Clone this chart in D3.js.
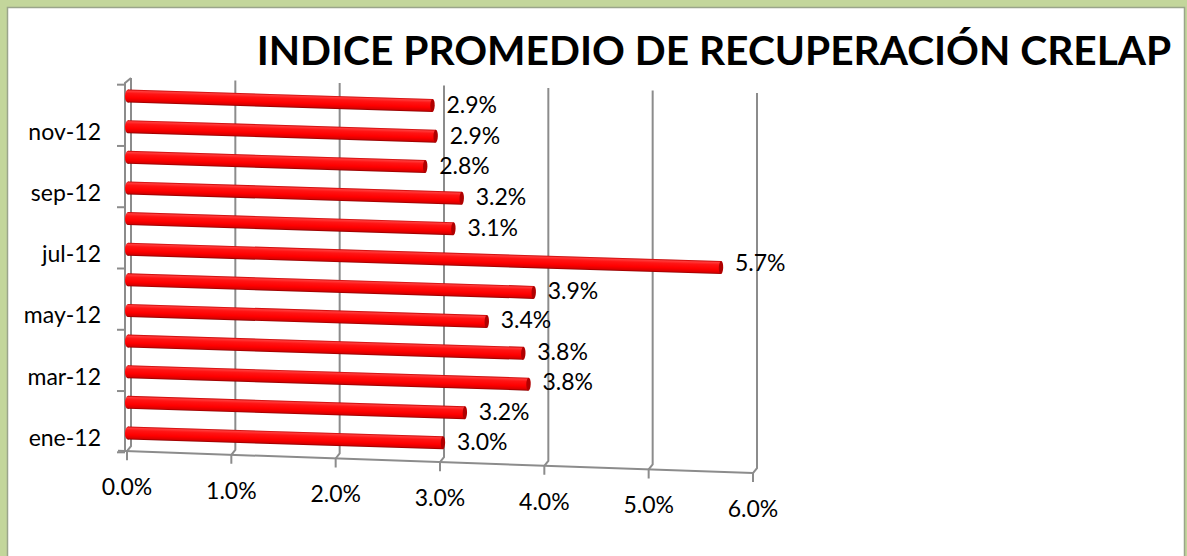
<!DOCTYPE html>
<html>
<head>
<meta charset="utf-8">
<script src="https://cdn.jsdelivr.net/npm/d3@7"></script>
<style>
  body { margin: 0; background: #c3d69b; }
  svg { display: block; font-family: Lato, "Open Sans", sans-serif; }
</style>
</head>
<body>
<div id="CHART"></div>
<script>
var WIDTH = 1187, HEIGHT = 556;

// data
var categories = ["ene-12", "feb-12", "mar-12", "abr-12", "may-12", "jun-12",
                  "jul-12", "ago-12", "sep-12", "oct-12", "nov-12", "dic-12"];
var recovery = [0.0299, 0.0320, 0.0381, 0.0376, 0.0341, 0.0386,
                0.05655, 0.0309, 0.0317, 0.0282, 0.0292, 0.0289];
var xTicks = [0, 0.01, 0.02, 0.03, 0.04, 0.05, 0.06];
var chartTitle = "INDICE PROMEDIO DE RECUPERACIÓN CRELAP";

// fake 3D: front plane -> back plane offset, and the floor / top edges lean down to the right
var DX = 4, DY = -5;
var BAR_SLOPE = 0.031, LABEL_SLOPE = 0.018;
var FONT = "23px";
function floorY(x) { return 451 + (x - 122) * 0.035; }
function topY(x) { return 78 + (x - 131) * 0.024; }

var svg = d3.select("#CHART")
    .append("svg")
    .attr("width", WIDTH)
    .attr("height", HEIGHT);

// green frame + white chart area
svg.append("rect").attr("width", WIDTH).attr("height", HEIGHT).attr("fill", "#c3d69b");
svg.append("rect")
    .attr("x", 7.5).attr("y", 7.5)
    .attr("width", 1177).attr("height", 570)
    .attr("fill", "#fff")
    .attr("stroke", "#9aa58a")
    .attr("stroke-width", 1.5);

var x = d3.scaleLinear().domain([0, 0.06]).range([127, 753]);
var y = d3.scalePoint().domain(categories).range([433, 96]);   // bar left end, back plane

var fmt = d3.format(".1%");

// bar gradient (cylinder look)
var defs = svg.append("defs");
var grad = defs.append("linearGradient").attr("id", "barGrad")
    .attr("x1", 0).attr("y1", 0).attr("x2", 0).attr("y2", 1);
[[0, "#c40000"], [0.12, "#ff3a3a"], [0.3, "#ff1414"], [0.65, "#ff0000"], [0.88, "#dc0000"], [1, "#8e0000"]]
    .forEach(function(s) { grad.append("stop").attr("offset", s[0]).attr("stop-color", s[1]); });

var gridColor = "#8c8c8c";

// vertical gridlines with the little floor kink and tick
svg.append("g")
    .selectAll("path")
    .data(xTicks)
    .enter()
    .append("path")
    .attr("fill", "none")
    .attr("stroke", gridColor)
    .attr("stroke-width", 2)
    .attr("d", function(d) {
        var X = x(d);
        return "M" + (X + DX) + "," + topY(X + DX) +
               "L" + (X + DX) + "," + (floorY(X) + DY) +
               "L" + X + "," + floorY(X) +
               "L" + X + "," + (floorY(X) + 9);
    });

// floor front edge (x axis line)
svg.append("path")
    .attr("fill", "none")
    .attr("stroke", gridColor)
    .attr("stroke-width", 2)
    .attr("d", "M118," + floorY(118) + "L" + x(0.06) + "," + floorY(x(0.06)));

// left (category) axis line with top kink
var axX = 125;
svg.append("path")
    .attr("fill", "none")
    .attr("stroke", gridColor)
    .attr("stroke-width", 2)
    .attr("d", "M" + (x(0) + DX) + "," + topY(x(0) + DX) +
               "L" + axX + "," + (topY(x(0) + DX) + 5) +
               "L" + axX + "," + floorY(axX));

// left ticks every two categories
var step = y.step();
var tickCats = categories.filter(function(c, i) { return i % 2 === 1; });
var leftTicks = tickCats.map(function(c) { return y(c) + 4 - step / 2; });
leftTicks.push(y(categories[0]) + 4 + step / 2);
svg.append("g")
    .selectAll("line")
    .data(leftTicks)
    .enter()
    .append("line")
    .attr("x1", axX - 8).attr("x2", axX)
    .attr("y1", function(d) { return d; })
    .attr("y2", function(d) { return d; })
    .attr("stroke", gridColor)
    .attr("stroke-width", 2);

// bars as slanted cylinders
var ang = Math.atan(BAR_SLOPE);
var bars = svg.append("g")
    .selectAll("g")
    .data(categories)
    .enter()
    .append("g")
    .attr("transform", function(d) { return "translate(128," + y(d) + ") rotate(" + (ang * 180 / Math.PI) + ")"; });

bars.append("rect")
    .attr("x", 0).attr("y", -6.5)
    .attr("height", 13)
    .attr("width", function(d, i) { return (x(recovery[i]) + DX - 128) / Math.cos(ang); })
    .attr("fill", "url(#barGrad)");
bars.append("ellipse")
    .attr("cx", 0).attr("cy", 0).attr("rx", 3).attr("ry", 6.5)
    .attr("fill", "url(#barGrad)");
bars.append("ellipse")
    .attr("cx", function(d, i) { return (x(recovery[i]) + DX - 128) / Math.cos(ang); })
    .attr("cy", 0).attr("rx", 2.2).attr("ry", 6.5)
    .attr("fill", "#b00000");

// data labels
svg.append("g")
    .selectAll("text")
    .data(categories)
    .enter()
    .append("text")
    .attr("x", function(d, i) { return x(recovery[i]) + DX + 14; })
    .attr("y", function(d, i) { return y(d) + 3.5 + LABEL_SLOPE * (x(recovery[i]) + DX - 128) + 8; })
    .style("font-size", FONT)
    .attr("fill", "#000")
    .text(function(d, i) { return fmt(recovery[i]); });

// category labels (every other month)
svg.append("g")
    .selectAll("text")
    .data(categories.filter(function(c, i) { return i % 2 === 0; }))
    .enter()
    .append("text")
    .attr("x", 101)
    .attr("y", function(d) { return y(d) + 13; })
    .attr("text-anchor", "end")
    .style("font-size", FONT)
    .text(function(d) { return d; });

// value axis labels
svg.append("g")
    .selectAll("text")
    .data(xTicks)
    .enter()
    .append("text")
    .attr("x", function(d) { return x(d); })
    .attr("y", function(d) { return floorY(x(d)) + 44; })
    .attr("text-anchor", "middle")
    .style("font-size", FONT)
    .text(function(d) { return d3.format(".1%")(d); });

// title, sized to span the same width as the original
var t = svg.append("text")
    .attr("x", 714)
    .attr("y", 65)
    .attr("text-anchor", "middle")
    .style("font-weight", "bold")
    .style("font-size", "40px")
    .text(chartTitle);
var w = t.node().getComputedTextLength();
t.style("font-size", (40 * 915 / w) + "px");
</script>
</body>
</html>
